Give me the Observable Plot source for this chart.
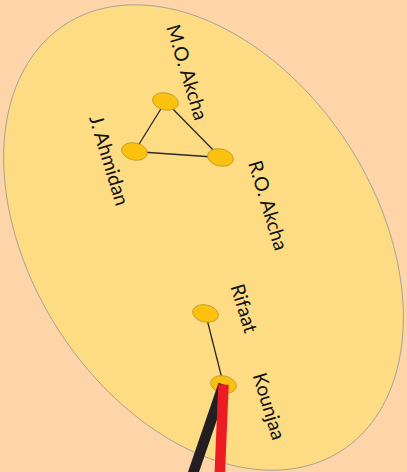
<!DOCTYPE html>
<html>
<head>
<meta charset="utf-8">
<script src="https://cdn.jsdelivr.net/npm/d3@7"></script>
<script src="https://cdn.jsdelivr.net/npm/@observablehq/plot@0.6"></script>
<style>
  html, body { margin: 0; padding: 0; background: #fdd5a9; }
  #chart { width: 407px; height: 472px; overflow: hidden; }
</style>
</head>
<body>
<div id="chart"></div>
<script>
// Nodes of the network (layout positions)
const nodeNames = ["M.O. Akcha", "J. Ahmidan", "R.O. Akcha", "Rifaat", "Kounjaa"];
const nodeX = [165, 134, 220, 205, 223];
const nodeY = [101, 151, 157, 313, 384];
// Label centers
const labelX = [186, 108, 267, 243, 268];
const labelY = [72, 160, 205, 308, 406];
// Thin links (within the cell)
const linkSource = ["M.O. Akcha", "M.O. Akcha", "J. Ahmidan", "Rifaat"];
const linkTarget = ["J. Ahmidan", "R.O. Akcha", "R.O. Akcha", "Kounjaa"];
// Thick links leaving the cell (to nodes outside the view)
const extNames = ["outside-black", "outside-red"];
const extX = [186, 218.5];
const extY = [492, 492];
const extColors = ["#231f20", "#ed1c24"];
// Cell outline (ellipse): center, semi-axes, tilt in degrees
const cell = {cx: 203, cy: 237, a: 254, b: 172, angle: 57};

const nodes = nodeNames.map((name, i) => ({name, x: nodeX[i], y: nodeY[i], lx: labelX[i], ly: labelY[i]}));
const byName = new Map(nodes.map(d => [d.name, d]));
const links = linkSource.map((s, i) => ({x1: byName.get(s).x, y1: byName.get(s).y, x2: byName.get(linkTarget[i]).x, y2: byName.get(linkTarget[i]).y}));
const kounjaa = byName.get("Kounjaa");
const extLinks = extNames.map((name, i) => ({name, x1: kounjaa.x, y1: kounjaa.y, x2: extX[i], y2: extY[i], color: extColors[i]}));

const th = cell.angle * Math.PI / 180;
const outline = d3.range(0, 360, 2).map(t => {
  const r = t * Math.PI / 180;
  const ex = cell.a * Math.cos(r), ey = cell.b * Math.sin(r);
  return {x: cell.cx + ex * Math.cos(th) - ey * Math.sin(th), y: cell.cy + ex * Math.sin(th) + ey * Math.cos(th)};
});

const ellipseSymbol = {
  draw(ctx) {
    const rx = 13, ry = 8.5, k = 0.5522848;
    ctx.moveTo(rx, 0);
    ctx.bezierCurveTo(rx, ry * k, rx * k, ry, 0, ry);
    ctx.bezierCurveTo(-rx * k, ry, -rx, ry * k, -rx, 0);
    ctx.bezierCurveTo(-rx, -ry * k, -rx * k, -ry, 0, -ry);
    ctx.bezierCurveTo(rx * k, -ry, rx, -ry * k, rx, 0);
    ctx.closePath();
  }
};

const chart = Plot.plot({
  width: 407,
  height: 472,
  margin: 0,
  style: {background: "#fdd5a9", overflow: "hidden"},
  x: {domain: [0, 407], range: [0, 407], axis: null},
  y: {domain: [0, 472], range: [0, 472], axis: null},
  marks: [
    Plot.line(outline, {x: "x", y: "y", curve: "linear-closed", fill: "#fddc84", stroke: "#a8a29a", strokeWidth: 1}),
    Plot.link(links, {x1: "x1", y1: "y1", x2: "x2", y2: "y2", stroke: "#2a2a2a", strokeWidth: 1.3}),
    Plot.dot(nodes, {x: "x", y: "y", symbol: ellipseSymbol, r: 8, fill: "#fcc00f", stroke: "#b8972a", strokeWidth: 0.8, rotate: 12}),
    Plot.link(extLinks, {x1: "x1", y1: "y1", x2: "x2", y2: "y2", stroke: "color", strokeWidth: 10.5, strokeLinecap: "butt"}),
    Plot.text(nodes, {x: "lx", y: "ly", text: "name", rotate: 73, fontSize: 19.5, fontFamily: "Lato", fill: "#111", textAnchor: "middle"})
  ]
});
document.getElementById("chart").appendChild(chart);
</script>
</body>
</html>
